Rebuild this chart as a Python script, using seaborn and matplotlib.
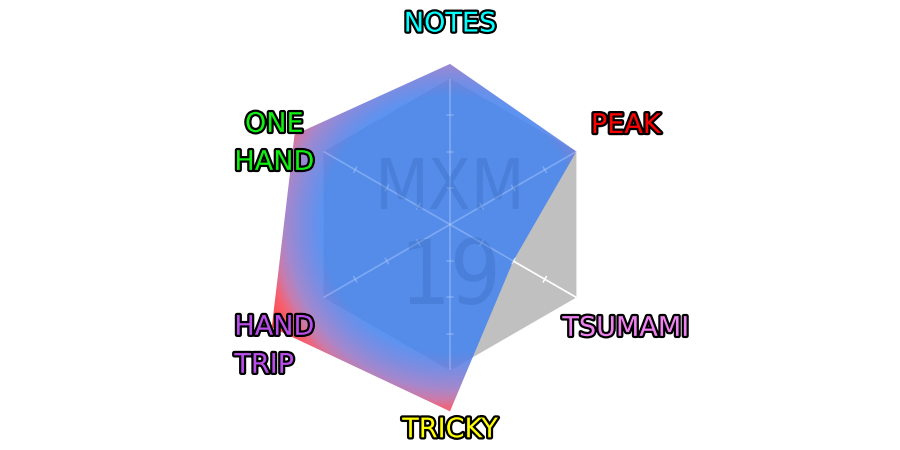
import numpy as np
import matplotlib
matplotlib.use('Agg')
import matplotlib.pyplot as plt
import matplotlib.patheffects as pe
from matplotlib.colors import LinearSegmentedColormap
from matplotlib.patches import Polygon
import seaborn as sns

sns.set_theme(style='white')
plt.rcParams['font.family'] = ['DejaVu Sans']

# chart data
categories = ['NOTES', 'PEAK', 'TSUMAMI', 'TRICKY', 'HAND\nTRIP', 'ONE\nHAND']
values = [110, 100, 50, 128, 141, 123]
label_colors = ['#00ffff', '#ff0000', '#ee82ee', '#ffff00', '#b94ee8', '#11ee11']
label_align = ['center', 'center', 'center', 'center', 'left', 'center']
scale_max = 100
ticks = [25, 50, 75]
mark_top = 'MXM'
mark_bottom = '19'

n = len(categories)
angles = np.deg2rad(90 - 360 / n * np.arange(n))
ux, uy = np.cos(angles), np.sin(angles)

fig = plt.figure(figsize=(9, 4.5), dpi=100)
ax = fig.add_axes([0, 0, 1, 1])
ax.axis('off')

# grey backing hexagon
ax.fill(ux * scale_max, uy * scale_max, color='#c0c0c0', lw=0, zorder=1)


def draw_spokes(alpha, z):
    for cx, cy in zip(ux, uy):
        ax.plot([0, cx * scale_max], [0, cy * scale_max], color='white',
                lw=1.2, alpha=alpha, zorder=z, solid_capstyle='butt')
        for t in ticks:
            px, py = -cy * 2.2, cx * 2.2
            ax.plot([cx * t - px, cx * t + px], [cy * t - py, cy * t + py],
                    color='white', lw=1.1, alpha=alpha, zorder=z)


draw_spokes(1.0, 2)

# value polygon with radial colour fade
vx = np.array(values) * ux
vy = np.array(values) * uy
shape = Polygon(np.column_stack([vx, vy]), closed=True, fc='none', ec='none')
ax.add_patch(shape)

cmap = LinearSegmentedColormap.from_list('fade', [
    (0.0, (70/255, 133/255, 239/255)),
    (88/160, (70/255, 133/255, 239/255)),
    (100/160, (105/255, 125/255, 222/255)),
    (112/160, (150/255, 120/255, 200/255)),
    (120/160, (195/255, 105/255, 160/255)),
    (127/160, (245/255, 75/255, 95/255)),
    (134/160, (255/255, 55/255, 60/255)),
    (1.0, (255/255, 50/255, 50/255)),
])
grid = np.linspace(-160, 160, 700)
gx, gy = np.meshgrid(grid, grid)
im = ax.imshow(np.hypot(gx, gy), cmap=cmap, vmin=0, vmax=160,
               extent=(-160, 160, -160, 160), origin='lower',
               alpha=0.88, zorder=3, interpolation='bilinear')
im.set_clip_path(shape)

draw_spokes(0.2, 4)

# watermark
ax.text(0, 28.5, mark_top, fontsize=50, color='#2a5cb0', alpha=0.25,
        ha='center', va='center_baseline', fontstretch='condensed', zorder=5)
ax.text(0, -31, mark_bottom, fontsize=64, color='#2a5cb0', alpha=0.25,
        ha='center', va='center_baseline', fontstretch='condensed', zorder=5)

# axis labels: first line centred on the label ring, extra lines hang below
line_step = 25.3
for lab, col, al, cx, cy in zip(categories, label_colors, label_align, ux, uy):
    extra = lab.count('\n')
    ax.text(cx * 139, cy * 139 - 6.8 - extra * line_step, lab,
            fontsize=19.5, color=col, ha='center', va='baseline',
            multialignment=al, linespacing=1.6, zorder=6,
            path_effects=[pe.withStroke(linewidth=3.2, foreground='black')])

ax.set_xlim(-308.2, 308.2)
ax.set_ylim(-154.5, 153.8)
ax.set_aspect('equal')

fig.savefig('out.png', dpi=100)
